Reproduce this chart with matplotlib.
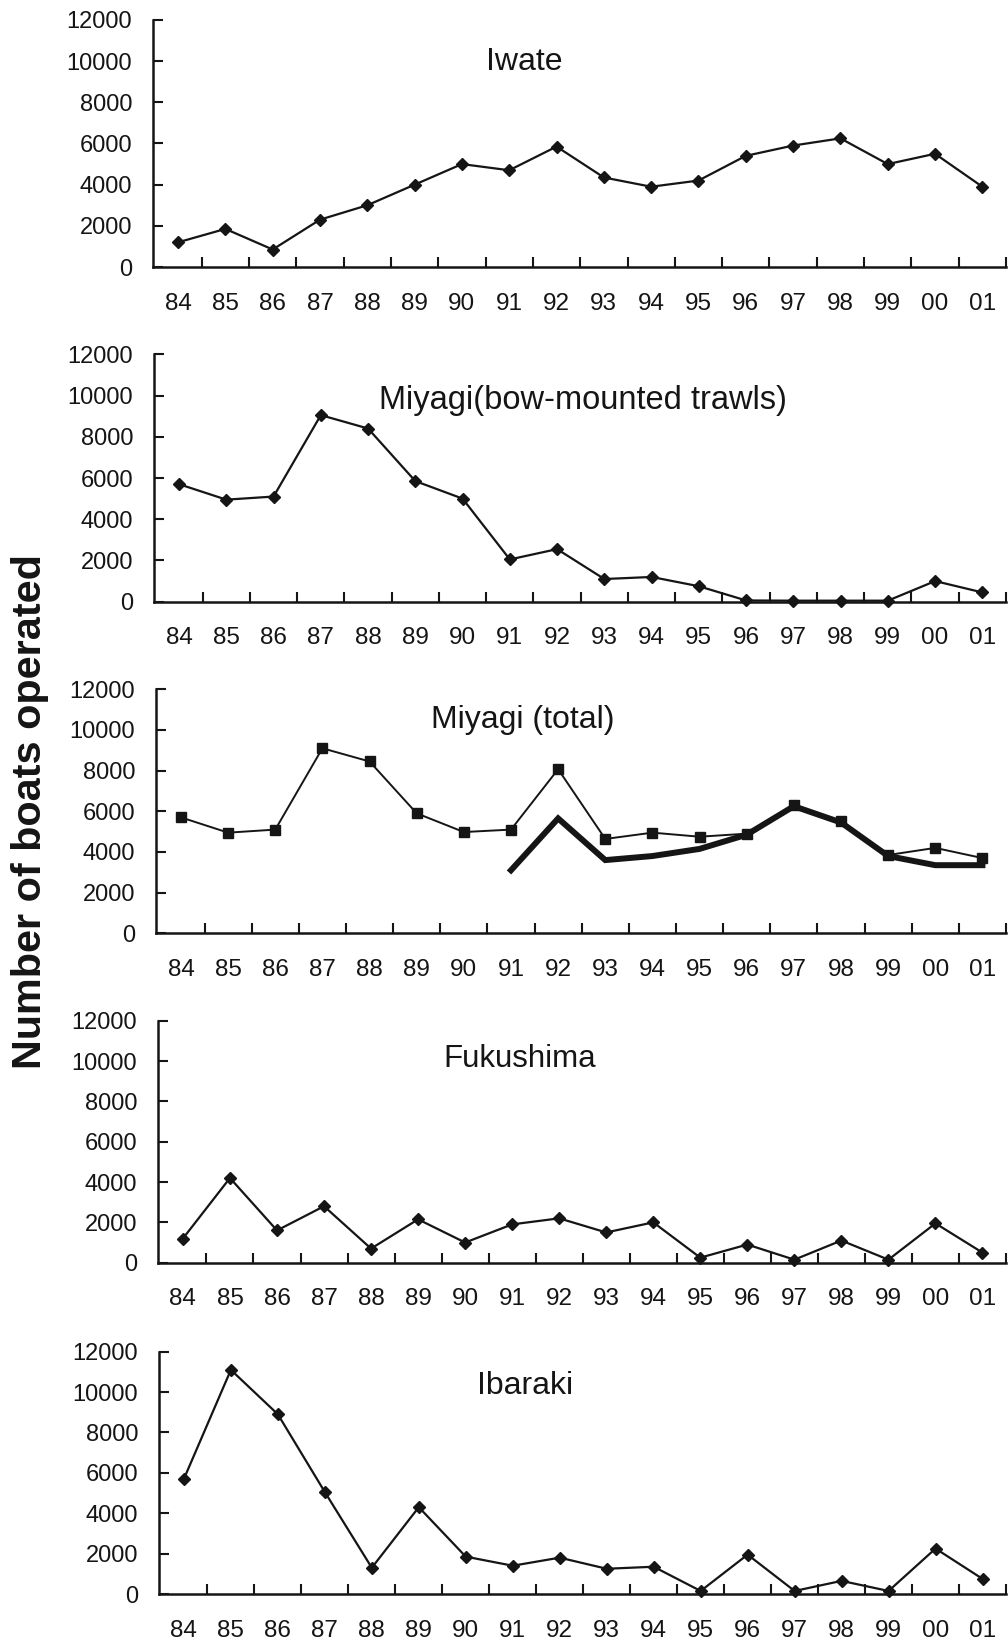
import numpy as np
import matplotlib
matplotlib.use("Agg")
import matplotlib.pyplot as plt
from matplotlib.ticker import FixedLocator

plt.rcParams['font.family'] = ['Liberation Sans', 'DejaVu Sans']

years = ["84", "85", "86", "87", "88", "89", "90", "91", "92",
         "93", "94", "95", "96", "97", "98", "99", "00", "01"]
yticks = [0, 2000, 4000, 6000, 8000, 10000, 12000]

iwate = [1200, 1850, 850, 2300, 3000, 4000, 5000, 4700, 5850,
         4350, 3900, 4200, 5400, 5900, 6250, 5000, 5500, 3900]
miyagi_bow = [5700, 4950, 5100, 9050, 8400, 5850, 5000, 2050, 2550,
              1100, 1200, 750, 60, 50, 50, 50, 1000, 450]
miyagi_total = [5700, 4950, 5100, 9100, 8450, 5900, 4980, 5100, 8070,
                4640, 4950, 4750, 4900, 6300, 5500, 3850, 4200, 3700]
miyagi_thick = [np.nan, np.nan, np.nan, np.nan, np.nan, np.nan, np.nan, 3100, 5650,
                3600, 3800, 4150, 4850, 6250, 5450, 3800, 3350, 3350]
fukushima = [1200, 4200, 1600, 2800, 700, 2150, 1000, 1900, 2200,
             1500, 2000, 250, 900, 150, 1100, 150, 1950, 500]
ibaraki = [5700, 11100, 8900, 5050, 1300, 4300, 1850, 1400, 1800,
           1250, 1350, 150, 1950, 150, 650, 150, 2250, 750]

titles = ["Iwate", "Miyagi(bow-mounted trawls)", "Miyagi (total)", "Fukushima", "Ibaraki"]
title_sizes = [23, 23.5, 23, 22.5, 23]

W, H = 1008, 1644
fig = plt.figure(figsize=(W / 100, H / 100), dpi=100)
fig.patch.set_facecolor('white')

# (left px, top px, bottom px, title x frac, title y frac)
panels = [
    (153, 20.0, 267.0, 0.435, 0.831),
    (154, 354.3, 601.7, 0.503, 0.815),
    (156, 689.3, 933.3, 0.431, 0.874),
    (158, 1020.7, 1262.7, 0.427, 0.842),
    (159, 1351.7, 1594.0, 0.432, 0.858),
]
right_px = 1006
ink = '#151515'

x = np.arange(len(years))
series_list = [iwate, miyagi_bow, miyagi_total, fukushima, ibaraki]

for i, (left, top, bottom, tx, ty) in enumerate(panels):
    ax = fig.add_axes([left / W, 1 - bottom / H, (right_px - left) / W, (bottom - top) / H])
    ax.set_facecolor('none')
    vals = series_list[i]
    if i == 2:
        ax.plot(x, miyagi_thick, color=ink, lw=4.3, solid_joinstyle='miter', zorder=2)
        ax.plot(x, vals, color=ink, lw=1.4, marker='s', ms=7, clip_on=False, zorder=3)
    else:
        ax.plot(x, vals, color=ink, lw=1.6, marker='D', ms=6.3, clip_on=False, zorder=3)
    ax.set_xlim(-0.53, 17.5)
    ax.set_ylim(0, 12000)
    for s in ['top', 'right']:
        ax.spines[s].set_visible(False)
    for s in ['left', 'bottom']:
        ax.spines[s].set_linewidth(1.8)
        ax.spines[s].set_color(ink)
    ax.set_yticks(yticks)
    ax.set_yticklabels([str(v) for v in yticks])
    ax.tick_params(axis='y', direction='in', length=7, width=1.5, color=ink,
                   labelsize=17, pad=15, labelcolor=ink)
    ax.set_xticks(x)
    ax.set_xticklabels(years)
    ax.tick_params(axis='x', which='major', length=0, labelsize=17.5, pad=18.5, labelcolor=ink)
    ax.xaxis.set_minor_locator(FixedLocator(np.arange(0.5, 17.6, 1.0)))
    ax.tick_params(axis='x', which='minor', direction='in', length=7, width=1.5, color=ink)
    ax.text(tx, ty, titles[i], transform=ax.transAxes, ha='center', va='center',
            fontsize=title_sizes[i], color=ink)

fig.text(30 / W, 1 - 812 / H, "Number of boats operated", rotation=90,
         ha='center', va='center', fontsize=29.8, fontweight='bold', color=ink)

fig.savefig("out.png", dpi=100, facecolor='white')
